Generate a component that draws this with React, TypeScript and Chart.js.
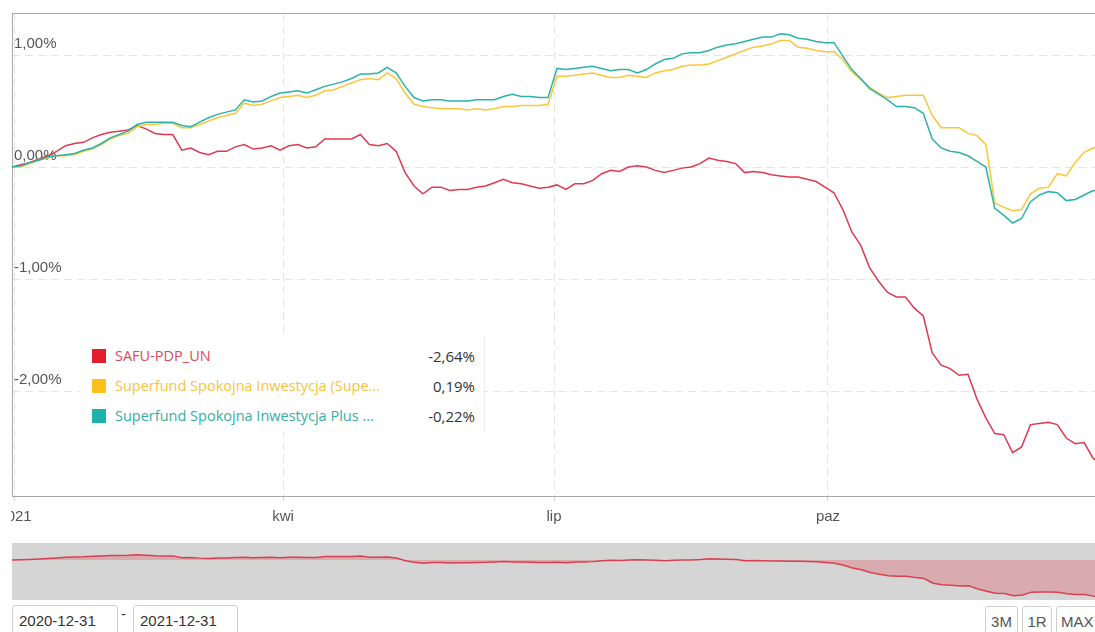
import { useEffect, useRef } from "react";
import { Chart, registerables } from "chart.js";

Chart.register(...registerables);

// day offsets from 2020-12-31
const days = [
  0, 3, 6, 9, 12, 15, 18, 21, 24, 27,
  30, 33, 36, 39, 42, 45, 48, 51, 54, 57,
  60, 63, 66, 69, 72, 75, 78, 81, 84, 87,
  90, 93, 96, 99, 102, 105, 108, 111, 114, 117,
  120, 123, 126, 129, 132, 135, 138, 141, 144, 147,
  150, 153, 156, 159, 162, 165, 168, 171, 174, 177,
  180, 183, 186, 189, 192, 195, 198, 201, 204, 207,
  210, 213, 216, 219, 222, 225, 228, 231, 234, 237,
  240, 243, 246, 249, 252, 255, 258, 261, 264, 267,
  270, 273, 276, 279, 282, 285, 288, 291, 294, 297,
  300, 303, 306, 309, 312, 315, 318, 321, 324, 327,
  330, 333, 336, 339, 342, 345, 348, 351, 354, 357,
  360, 363, 365,
];

const safu = [
  0.0, 0.02, 0.04, 0.07, 0.1, 0.14, 0.19, 0.21, 0.22, 0.26,
  0.29, 0.31, 0.32, 0.33, 0.37, 0.34, 0.3, 0.29, 0.29, 0.15,
  0.17, 0.13, 0.11, 0.14, 0.14, 0.18, 0.2, 0.16, 0.17, 0.19,
  0.15, 0.19, 0.2, 0.17, 0.18, 0.25, 0.25, 0.25, 0.25, 0.29,
  0.2, 0.19, 0.21, 0.14, -0.05, -0.17, -0.24, -0.18, -0.18, -0.21,
  -0.2, -0.2, -0.18, -0.17, -0.14, -0.11, -0.14, -0.15, -0.17, -0.19,
  -0.18, -0.16, -0.2, -0.15, -0.15, -0.12, -0.06, -0.03, -0.04, 0.0,
  0.01, 0.0, -0.03, -0.05, -0.03, -0.01, 0.0, 0.03, 0.08, 0.06,
  0.05, 0.03, -0.05, -0.04, -0.05, -0.07, -0.08, -0.09, -0.09, -0.11,
  -0.13, -0.18, -0.23, -0.38, -0.58, -0.7, -0.9, -1.02, -1.12, -1.16,
  -1.16, -1.26, -1.33, -1.66, -1.77, -1.8, -1.86, -1.85, -2.07, -2.24,
  -2.38, -2.39, -2.55, -2.5, -2.3, -2.29, -2.28, -2.3, -2.42, -2.47,
  -2.46, -2.6, -2.64,
];

const spokojna = [
  0.0, 0.0, 0.03, 0.06, 0.08, 0.1, 0.1, 0.11, 0.14, 0.16,
  0.2, 0.25, 0.28, 0.3, 0.36, 0.38, 0.38, 0.39, 0.39, 0.35,
  0.35, 0.38, 0.41, 0.44, 0.46, 0.48, 0.57, 0.55, 0.56, 0.59,
  0.62, 0.63, 0.64, 0.62, 0.64, 0.68, 0.69, 0.72, 0.75, 0.78,
  0.79, 0.78, 0.84, 0.79, 0.66, 0.56, 0.54, 0.53, 0.52, 0.52,
  0.52, 0.51, 0.52, 0.51, 0.52, 0.54, 0.54, 0.55, 0.55, 0.55,
  0.56, 0.81, 0.81, 0.82, 0.83, 0.84, 0.82, 0.8, 0.8, 0.82,
  0.81, 0.8, 0.84, 0.86, 0.87, 0.9, 0.91, 0.91, 0.92, 0.95,
  0.98, 1.01, 1.04, 1.07, 1.08, 1.1, 1.13, 1.13, 1.07, 1.06,
  1.04, 1.03, 1.03, 0.96, 0.85, 0.78, 0.71, 0.66, 0.62, 0.63,
  0.64, 0.64, 0.64, 0.46, 0.35, 0.35, 0.35, 0.3, 0.28, 0.2,
  -0.32, -0.36, -0.39, -0.38, -0.24, -0.19, -0.18, -0.06, -0.08, 0.04,
  0.13, 0.17, 0.19,
];

const spokojnaPlus = [
  0.0, 0.01, 0.04, 0.06, 0.09, 0.1, 0.11, 0.12, 0.15, 0.17,
  0.21, 0.26, 0.29, 0.32, 0.38, 0.4, 0.4, 0.4, 0.4, 0.37,
  0.36, 0.4, 0.44, 0.47, 0.49, 0.51, 0.6, 0.58, 0.59, 0.63,
  0.66, 0.67, 0.68, 0.66, 0.69, 0.72, 0.74, 0.76, 0.79, 0.83,
  0.83, 0.84, 0.89, 0.84, 0.72, 0.62, 0.59, 0.6, 0.6, 0.59,
  0.59, 0.59, 0.6, 0.6, 0.6, 0.63, 0.65, 0.63, 0.63, 0.62,
  0.62, 0.88, 0.87, 0.88, 0.89, 0.9, 0.88, 0.86, 0.87, 0.87,
  0.84, 0.87, 0.92, 0.96, 0.97, 1.01, 1.02, 1.02, 1.04, 1.07,
  1.09, 1.1, 1.12, 1.14, 1.16, 1.16, 1.19, 1.18, 1.15, 1.14,
  1.12, 1.11, 1.11, 0.99, 0.87, 0.79, 0.7, 0.65, 0.6, 0.54,
  0.54, 0.53, 0.48, 0.25, 0.17, 0.14, 0.13, 0.1, 0.05, 0.0,
  -0.37, -0.43, -0.5, -0.46, -0.31, -0.25, -0.22, -0.23, -0.3, -0.29,
  -0.25, -0.21, -0.22,
];

const xTickDays = [1, 91, 182, 274];
const xTickLabels = ["2021", "kwi", "lip", "paz"];
const yTicks = [-2, -1, 0, 1];

const seriesNames = [
  "SAFU-PDP_UN",
  "Superfund Spokojna Inwestycja (Supe...",
  "Superfund Spokojna Inwestycja Plus ...",
];
const seriesResults = ["-2,64%", "0,19%", "-0,22%"];
const lineColors = ["#df3a50", "#fcc63a", "#2bb3a8"];
const squareColors = ["#e31e2d", "#fcc11a", "#1db3aa"];
const textColors = ["#e0475c", "#f6c443", "#35aea6"];

const dateFrom = "2020-12-31";
const dateTo = "2021-12-31";
const rangeButtons = ["3M", "1R", "MAX"];

const axisFont = { family: "'Liberation Sans', Arial, sans-serif", size: 15 };

const pts = (vals: number[]) => vals.map((v, i) => ({ x: days[i], y: v }));

const plotBorder = {
  id: "plotBorder",
  beforeDatasetsDraw(chart: any) {
    const { ctx, chartArea } = chart;
    ctx.save();
    ctx.strokeStyle = "#a8a8a8";
    ctx.lineWidth = 1;
    ctx.strokeRect(
      Math.round(chartArea.left) + 0.5,
      Math.round(chartArea.top) + 0.5,
      Math.round(chartArea.right - chartArea.left) + 4,
      Math.round(chartArea.bottom - chartArea.top)
    );
    ctx.restore();
  },
};

export default function App() {
  const mainRef = useRef<HTMLCanvasElement | null>(null);
  const navRef = useRef<HTMLCanvasElement | null>(null);

  useEffect(() => {
    if (!mainRef.current || !navRef.current) return;
    const main = new Chart(mainRef.current, {
      type: "line",
      data: {
        datasets: [
          {
            data: pts(spokojnaPlus),
            borderColor: lineColors[2],
            borderWidth: 1.5,
            pointRadius: 0,
            tension: 0,
          },
          {
            data: pts(spokojna),
            borderColor: lineColors[1],
            borderWidth: 1.5,
            pointRadius: 0,
            tension: 0,
          },
          {
            data: pts(safu),
            borderColor: lineColors[0],
            borderWidth: 1.5,
            pointRadius: 0,
            tension: 0,
          },
        ],
      },
      options: {
        animation: false,
        responsive: false,
        devicePixelRatio: 1,
        layout: { padding: { top: 13, right: 1, left: 0, bottom: 0 } },
        plugins: { legend: { display: false }, tooltip: { enabled: false } },
        scales: {
          x: {
            type: "linear",
            min: 0,
            max: 365,
            afterBuildTicks: (s: any) => {
              s.ticks = xTickDays.map((v) => ({ value: v }));
            },
            afterFit: (s: any) => {
              s.paddingLeft = 0;
              s.paddingRight = 0;
              s.height = 44;
            },
            ticks: {
              autoSkip: false,
              maxRotation: 0,
              padding: 7,
              color: "#555",
              font: axisFont,
              callback: (v: any) => {
                const i = xTickDays.indexOf(Number(v));
                return i >= 0 ? xTickLabels[i] : "";
              },
            },
            grid: { color: "#e4e4e4", tickLength: 5, tickColor: "#d0d0d0" },
            border: { display: false, dash: [8, 5] },
          },
          y: {
            type: "linear",
            min: -2.9375,
            max: 1.375,
            afterBuildTicks: (s: any) => {
              s.ticks = yTicks.map((v) => ({ value: v }));
            },
            afterFit: (s: any) => {
              s.width = 1;
            },
            ticks: {
              mirror: true,
              padding: 2,
              labelOffset: -11,
              color: "#555",
              font: axisFont,
              callback: (v: any) => Number(v).toFixed(2).replace(".", ",") + "%",
            },
            grid: { color: "#e4e4e4", drawTicks: false },
            border: { display: false, dash: [8, 5] },
          },
        },
      },
      plugins: [plotBorder],
    });

    const nav = new Chart(navRef.current, {
      type: "line",
      data: {
        datasets: [
          {
            data: pts(safu),
            borderColor: "#d9404f",
            borderWidth: 1.5,
            pointRadius: 0,
            tension: 0,
            fill: "origin",
            backgroundColor: "rgba(232,32,42,0.23)",
          },
        ],
      },
      options: {
        animation: false,
        responsive: false,
        devicePixelRatio: 1,
        layout: { padding: 0 },
        plugins: { legend: { display: false }, tooltip: { enabled: false } },
        scales: {
          x: { type: "linear", display: false, min: 0, max: 365 },
          y: { type: "linear", display: false, min: -2.86, max: 1.21 },
        },
      },
    });

    return () => {
      main.destroy();
      nav.destroy();
    };
  }, []);

  const boxStyle: any = {
    position: "absolute",
    top: 605,
    height: 30,
    border: "1px solid #cfcfcf",
    borderRadius: 3,
    boxSizing: "border-box",
    background: "#fff",
    font: "15px 'Liberation Sans', Arial, sans-serif",
    color: "#333",
    lineHeight: "30px",
  };

  return (
    <div
      style={{
        position: "absolute",
        left: 0,
        top: 0,
        width: 1095,
        height: 632,
        overflow: "hidden",
        background: "#fff",
      }}
    >
      <canvas
        ref={mainRef}
        width={1089}
        height={540}
        style={{ position: "absolute", left: 11, top: 0, width: 1089, height: 540 }}
      />
      <div
        style={{
          position: "absolute",
          left: 80,
          top: 337,
          width: 405,
          height: 95,
          background: "#fff",
          borderRight: "1px solid #ececec",
          boxSizing: "border-box",
          fontFamily: "'Open Sans', sans-serif",
        }}
      >
        {seriesNames.map((name, i) => (
          <div
            key={name}
            style={{
              position: "absolute",
              left: 0,
              top: 9 + i * 30,
              width: 405,
              height: 20,
            }}
          >
            <div
              style={{
                position: "absolute",
                left: 12,
                top: 3,
                width: 14,
                height: 14,
                background: squareColors[i],
              }}
            />
            <div
              style={{
                position: "absolute",
                left: 35,
                top: 0,
                lineHeight: "20px",
                fontSize: 14.5,
                color: textColors[i],
                whiteSpace: "nowrap",
              }}
            >
              {name}
            </div>
            <div
              style={{
                position: "absolute",
                right: 10,
                top: 0,
                lineHeight: "20px",
                fontSize: 15,
                color: "#333",
                whiteSpace: "nowrap",
              }}
            >
              {seriesResults[i]}
            </div>
          </div>
        ))}
      </div>
      <canvas
        ref={navRef}
        width={1088}
        height={57}
        style={{
          position: "absolute",
          left: 12,
          top: 543,
          width: 1088,
          height: 57,
          background: "#d5d5d5",
        }}
      />
      <div style={{ ...boxStyle, left: 12, width: 106, paddingLeft: 6 }}>{dateFrom}</div>
      <div
        style={{
          position: "absolute",
          left: 121,
          top: 605,
          lineHeight: "30px",
          font: "15px 'Liberation Sans', Arial, sans-serif",
          color: "#333",
        }}
      >
        -
      </div>
      <div style={{ ...boxStyle, left: 133, width: 105, paddingLeft: 6 }}>{dateTo}</div>
      {rangeButtons.map((b, i) => (
        <div
          key={b}
          style={{
            ...boxStyle,
            top: 606,
            left: [985, 1022, 1056][i],
            width: [33, 30, 44][i],
            textAlign: i === 2 ? "left" : "center",
            paddingLeft: i === 2 ? 4 : 0,
            color: "#555",
          }}
        >
          {b}
        </div>
      ))}
    </div>
  );
}
